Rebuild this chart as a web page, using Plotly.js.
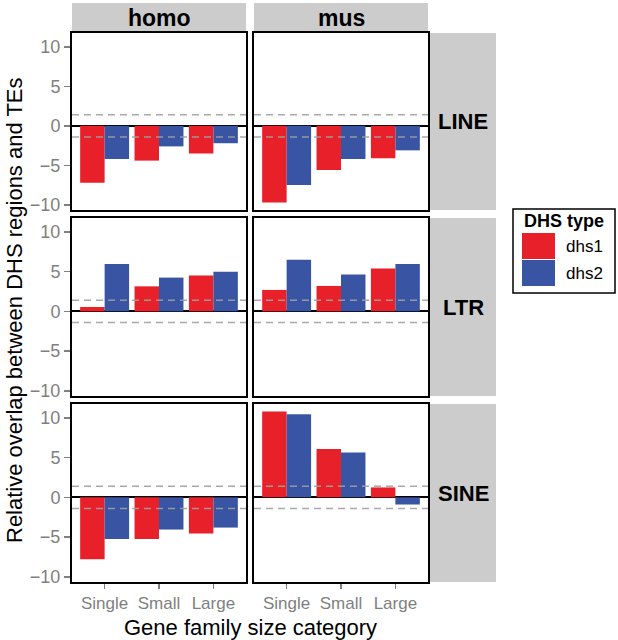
<!DOCTYPE html>
<html>
<head>
<meta charset="utf-8">
<script src="https://cdn.plot.ly/plotly-3.0.1.min.js"></script>
<style>html,body{margin:0;padding:0;background:#fff;}#chart{width:618px;height:640px;}</style>
</head>
<body>
<div id="chart"></div>
<script>
// ---- data ----
const categories = ['Single', 'Small', 'Large'];
const species = ['homo', 'mus'];
const teFamilies = ['LINE', 'LTR', 'SINE'];
const seriesNames = ['dhs1', 'dhs2'];
const seriesColors = ['#E8202A', '#3A54A4'];
const thresholds = [-1.4, 1.4];

const homo_LINE_dhs1 = [-7.2, -4.4, -3.5];
const homo_LINE_dhs2 = [-4.2, -2.6, -2.2];
const mus_LINE_dhs1 = [-9.7, -5.6, -4.1];
const mus_LINE_dhs2 = [-7.5, -4.2, -3.1];

const homo_LTR_dhs1 = [0.55, 3.15, 4.5];
const homo_LTR_dhs2 = [5.95, 4.25, 5.0];
const mus_LTR_dhs1 = [2.7, 3.2, 5.4];
const mus_LTR_dhs2 = [6.5, 4.65, 5.95];

const homo_SINE_dhs1 = [-7.8, -5.25, -4.55];
const homo_SINE_dhs2 = [-5.25, -4.05, -3.8];
const mus_SINE_dhs1 = [10.8, 6.1, 1.25];
const mus_SINE_dhs2 = [10.45, 5.65, -0.9];

const values = {
  homo: {LINE: [homo_LINE_dhs1, homo_LINE_dhs2], LTR: [homo_LTR_dhs1, homo_LTR_dhs2], SINE: [homo_SINE_dhs1, homo_SINE_dhs2]},
  mus: {LINE: [mus_LINE_dhs1, mus_LINE_dhs2], LTR: [mus_LTR_dhs1, mus_LTR_dhs2], SINE: [mus_SINE_dhs1, mus_SINE_dhs2]}
};

// ---- layout geometry (pixels) ----
const W = 618, H = 640;
const colPx = [[72, 246], [254, 428]];
const rowPx = [[33, 210], [218, 396], [404, 582]];
const px = v => v / W;
const py = v => 1 - v / H;
const FONT = 'Liberation Sans, Arial, Helvetica, sans-serif';
const STRIP = '#CCCCCC';

const traces = [];
const layout = {
  width: W, height: H,
  margin: {l: 0, r: 0, t: 0, b: 0},
  paper_bgcolor: '#fff', plot_bgcolor: '#fff',
  showlegend: false,
  barmode: 'group', bargap: 0.1, bargroupgap: 0,
  font: {family: FONT},
  shapes: [], annotations: []
};

teFamilies.forEach((fam, r) => {
  species.forEach((sp, c) => {
    const i = r * 2 + c + 1;
    const xa = 'x' + (i === 1 ? '' : i), ya = 'y' + (i === 1 ? '' : i);
    seriesNames.forEach((s, k) => {
      traces.push({
        type: 'bar', x: categories, y: values[sp][fam][k], name: s,
        xaxis: xa, yaxis: ya, offsetgroup: s,
        marker: {color: seriesColors[k], line: {width: 0}},
        showlegend: false, hoverinfo: 'x+y+name'
      });
    });
    const xkey = 'xaxis' + (i === 1 ? '' : i), ykey = 'yaxis' + (i === 1 ? '' : i);
    layout[xkey] = {
      domain: [px(colPx[c][0]), px(colPx[c][1])], anchor: ya,
      type: 'category', categoryorder: 'array', categoryarray: categories,
      range: [-0.6, 2.6], showgrid: false, zeroline: false,
      showline: true, mirror: true, linecolor: '#000', linewidth: 2,
      ticks: r === 2 ? 'outside' : '', ticklen: 5, tickwidth: 1.5, tickcolor: '#7F7F7F',
      showticklabels: r === 2,
      tickfont: {family: FONT, size: 17, color: '#7F7F7F'}, fixedrange: true
    };
    layout[ykey] = {
      domain: [py(rowPx[r][1]), py(rowPx[r][0])], anchor: xa,
      range: [-10.65, 11.75], tickvals: [-10, -5, 0, 5, 10],
      showgrid: false, zeroline: true, zerolinecolor: '#000', zerolinewidth: 2,
      showline: true, mirror: true, linecolor: '#000', linewidth: 2,
      ticks: c === 0 ? 'outside' : '', ticklen: 6, tickwidth: 1.5, tickcolor: '#7F7F7F',
      showticklabels: c === 0,
      tickfont: {family: FONT, size: 18, color: '#7F7F7F'}, fixedrange: true
    };
    thresholds.forEach(t => {
      layout.shapes.push({
        type: 'line', xref: xa + ' domain', yref: ya, x0: 0, x1: 1, y0: t, y1: t,
        line: {color: 'rgba(160,160,160,0.9)', width: 1.5, dash: '7px,5px'}, layer: 'above'
      });
    });
  });
});

// top strips
species.forEach((sp, c) => {
  layout.shapes.push({type: 'rect', xref: 'paper', yref: 'paper',
    x0: px(colPx[c][0]), x1: px(colPx[c][1]), y0: py(32), y1: py(3),
    fillcolor: STRIP, line: {width: 0}, layer: 'below'});
  layout.annotations.push({xref: 'paper', yref: 'paper', x: px((colPx[c][0] + colPx[c][1]) / 2), y: py(18),
    text: '<b>' + sp + '</b>', showarrow: false, xanchor: 'center', yanchor: 'middle',
    font: {family: FONT, size: 23, color: '#000'}});
});
// right strips
teFamilies.forEach((fam, r) => {
  layout.shapes.push({type: 'rect', xref: 'paper', yref: 'paper',
    x0: px(430), x1: px(496), y0: py(rowPx[r][1]), y1: py(rowPx[r][0]),
    fillcolor: STRIP, line: {width: 0}, layer: 'below'});
  layout.annotations.push({xref: 'paper', yref: 'paper', x: px(463), y: py((rowPx[r][0] + rowPx[r][1]) / 2),
    text: '<b>' + fam + '</b>', showarrow: false, xanchor: 'center', yanchor: 'middle',
    font: {family: FONT, size: 22, color: '#000'}});
});

// axis titles
layout.annotations.push({xref: 'paper', yref: 'paper', x: px(250), y: py(627),
  text: 'Gene family size category', showarrow: false, xanchor: 'center', yanchor: 'middle',
  font: {family: FONT, size: 22, color: '#000'}});
layout.annotations.push({xref: 'paper', yref: 'paper', x: px(14), y: py(310),
  text: 'Relative overlap between DHS regions and TEs', showarrow: false, textangle: -90,
  xanchor: 'center', yanchor: 'middle',
  font: {family: FONT, size: 22, color: '#000'}});

// legend (drawn manually)
layout.shapes.push({type: 'rect', xref: 'paper', yref: 'paper',
  x0: px(513), x1: px(615), y0: py(293), y1: py(209),
  fillcolor: '#fff', line: {color: '#000', width: 1.5}});
layout.annotations.push({xref: 'paper', yref: 'paper', x: px(564), y: py(221),
  text: '<b>DHS type</b>', showarrow: false, xanchor: 'center', yanchor: 'middle',
  font: {family: FONT, size: 18, color: '#000'}});
seriesNames.forEach((s, k) => {
  const top = 233 + k * 27;
  layout.shapes.push({type: 'rect', xref: 'paper', yref: 'paper',
    x0: px(522), x1: px(555), y0: py(top + 26), y1: py(top),
    fillcolor: seriesColors[k], line: {width: 0}});
  layout.annotations.push({xref: 'paper', yref: 'paper', x: px(564), y: py(top + 13),
    text: s, showarrow: false, xanchor: 'left', yanchor: 'middle',
    font: {family: FONT, size: 17, color: '#000'}});
});

Plotly.newPlot('chart', traces, layout, {displayModeBar: false, staticPlot: true});
</script>
</body>
</html>
